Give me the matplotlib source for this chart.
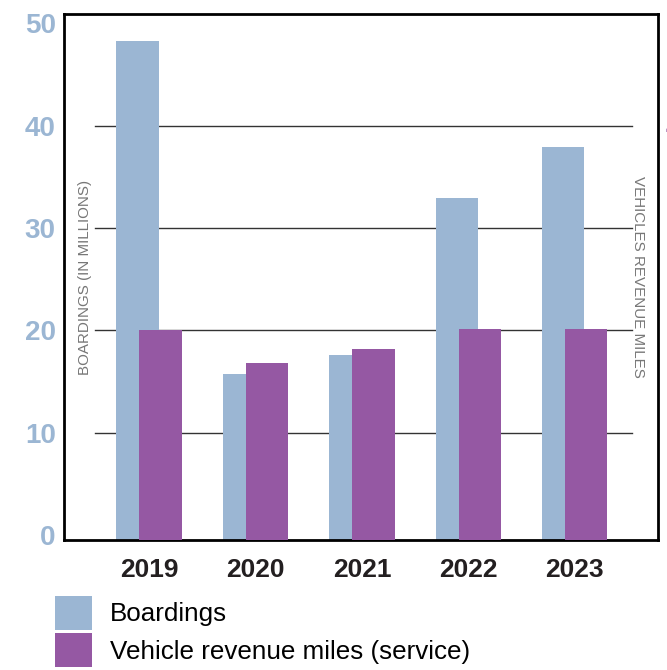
import numpy as np
import matplotlib.pyplot as plt

# chart data
years = ["2019", "2020", "2021", "2022", "2023"]
boardings = [48.3, 15.7, 17.6, 32.9, 37.9]
revenue_miles = [20.0, 16.8, 18.2, 20.1, 20.1]
y_ticks = [0, 10, 20, 30, 40, 50]

blue = "#9bb6d3"
purple = "#9558a3"

plt.rcParams['font.family'] = ['Liberation Sans', 'DejaVu Sans']

fig = plt.figure(figsize=(6.67, 6.70), dpi=100)
ax = fig.add_axes([0.096, 0.194, 0.890, 0.785])

x = np.arange(len(years))
width = 0.40
off = 0.108
base = -0.5

ax.set_xlim(-0.80, 4.78)
ax.set_ylim(base, 50.9)

# gridlines that stop short of the frame
for t in y_ticks[1:-1]:
    ax.plot([-0.51, 4.535], [t, t], color="#333333", lw=1.0, zorder=1)

ax.bar(x - off, np.array(boardings) - base, width, bottom=base, color=blue,
       zorder=2, label="Boardings")
ax.bar(x + off, np.array(revenue_miles) - base, width, bottom=base, color=purple,
       zorder=3, label="Vehicle revenue miles (service)")

for s in ax.spines.values():
    s.set_linewidth(2.0)
    s.set_color("black")

ax.set_yticks(y_ticks)
ax.set_yticklabels([str(t) for t in y_ticks], color=blue, fontsize=20,
                   fontweight="bold")
ax.set_xticks(x)
ax.set_xticklabels(years, color="#231f20", fontsize=19, fontweight="bold")
ax.tick_params(axis="both", length=0)
ax.tick_params(axis="y", pad=6)
ax.tick_params(axis="x", pad=13)

ax.text(0.035, 0.5, "BOARDINGS (IN MILLIONS)", transform=ax.transAxes,
        rotation=90, ha="center", va="center", fontsize=10.9, color="#777777")
ax.text(0.967, 0.5, "VEHICLES REVENUE MILES", transform=ax.transAxes,
        rotation=-90, ha="center", va="center", fontsize=10.9, color="#777777")

# right axis, labels run off the figure edge
ax2 = ax.twinx()
ax2.set_ylim(base, 50.9)
ax2.set_yticks(y_ticks)
ax2.set_yticklabels([str(t) for t in y_ticks], color=purple, fontsize=20,
                    fontweight="bold")
ax2.tick_params(axis="y", length=0, pad=6)
for s in ax2.spines.values():
    s.set_visible(False)

handles, labels = ax.get_legend_handles_labels()
fig.legend(handles, labels, loc="upper left", bbox_to_anchor=(0.082, 0.111),
           frameon=False, fontsize=18.7, handlelength=1.42, handleheight=1.65,
           handletextpad=0.7, labelspacing=0.12, borderaxespad=0, borderpad=0)

fig.savefig("out.png", dpi=100)
